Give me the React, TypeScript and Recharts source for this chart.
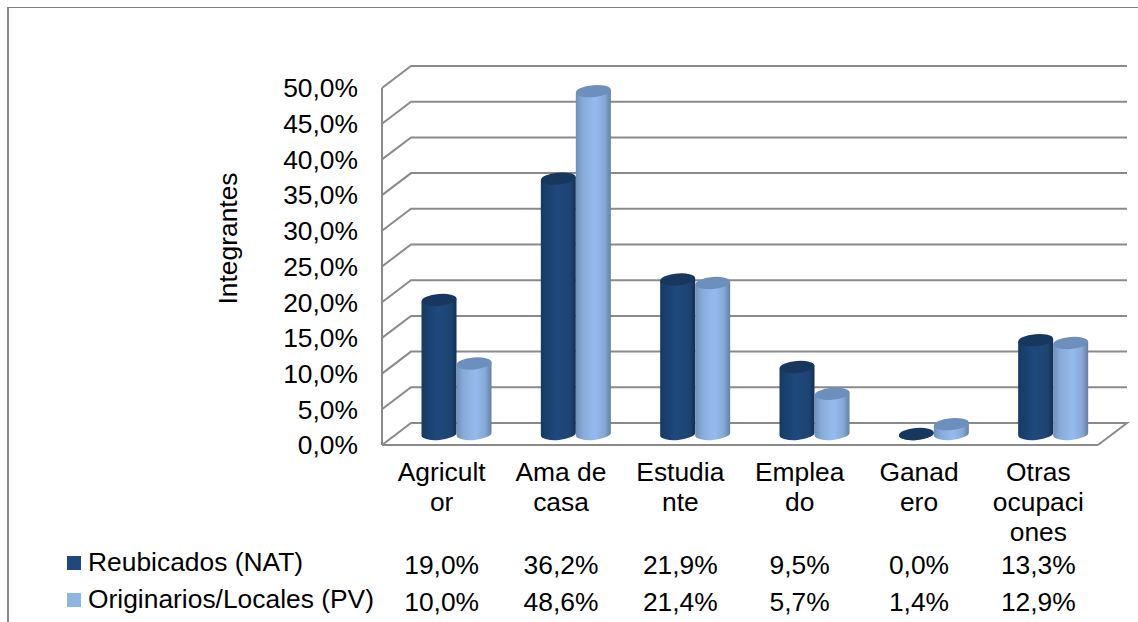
import { BarChart, Bar, XAxis, YAxis, CartesianGrid, Legend } from 'recharts'

const categories = ['Agricult\nor', 'Ama de\ncasa', 'Estudia\nnte', 'Emplea\ndo', 'Ganad\nero', 'Otras\nocupaci\nones']
const reubicados = [19.0, 36.2, 21.9, 9.5, 0.0, 13.3]
const originarios = [10.0, 48.6, 21.4, 5.7, 1.4, 12.9]
const yTicks = [0, 5, 10, 15, 20, 25, 30, 35, 40, 45, 50]

const data = categories.map((name, i) => ({ name, reubicados: reubicados[i], originarios: originarios[i] }))

const FONT = '"Liberation Sans", Arial, sans-serif'
const FONT_SIZE = 26.4
const GRID = '#8a8a8a'
const DARK = '#1f497d'
const LIGHT = '#8eb4e3'
// 3D depth of the floor / back wall
const DEPTH_X = 29
const DEPTH_Y = 22
// bars stand mid-floor, so they read a little shorter than the front axis
const BAR_SCALE = 0.988

const pct = (v: number) => `${v.toFixed(1).replace('.', ',')}%`

function Cylinder({ x, y, width, height, gradient, cap }: any) {
    const rx = width / 2
    const ry = 6
    const left = x + DEPTH_X / 2
    const right = left + width
    const cx = left + rx
    const bottom = y + height - DEPTH_Y / 2
    const top = bottom - height * BAR_SCALE
    const tilt = 1.6
    return (
        <g>
            <path
                d={`M${left},${top + tilt} L${left},${bottom + tilt} A${rx},${ry} -5 0 0 ${right},${bottom - tilt} L${right},${top - tilt} Z`}
                fill={`url(#${gradient})`}
            />
            <ellipse cx={cx} cy={top} rx={rx} ry={ry} fill={cap} transform={`rotate(-5 ${cx} ${top})`} />
        </g>
    )
}

function WallLine({ x1, x2, y1, index }: any) {
    const floor = y1 >= 444
    const pts = `${x1},${y1} ${x1 + DEPTH_X},${y1 - DEPTH_Y} ${x2 + DEPTH_X},${y1 - DEPTH_Y}${floor ? ` ${x2},${y1}` : ''}`
    return <polyline key={index} points={pts} fill="none" stroke={GRID} strokeWidth={2} />
}

function TableTick({ x, y, payload, index }: any) {
    const lines = String(payload.value).split('\n')
    return (
        <g fontFamily={FONT} fontSize={FONT_SIZE} fill="#000" textAnchor="middle">
            {lines.map((line, i) => (
                <text key={i} x={x} y={y + 34 + i * 30}>{line}</text>
            ))}
            <text x={x} y={y + 127}>{pct(reubicados[index])}</text>
            <text x={x} y={y + 164}>{pct(originarios[index])}</text>
        </g>
    )
}

function TableLegend({ payload }: any) {
    return (
        <div style={{ fontFamily: FONT, fontSize: FONT_SIZE, color: '#000' }}>
            {(payload ?? []).map((p: any) => (
                <div key={p.value} style={{ display: 'flex', alignItems: 'center', height: 37, whiteSpace: 'nowrap' }}>
                    <span style={{ width: 14, height: 14, background: p.color, marginRight: 7 }} />
                    {p.value}
                </div>
            ))}
        </div>
    )
}

export default function App() {
    return (
        <div style={{ position: 'absolute', left: 0, top: 0, width: 1138, height: 622, overflow: 'hidden', background: '#fff' }}>
            <div style={{ position: 'absolute', left: 7, top: 7, width: 1131, height: 615, borderLeft: `2px solid ${GRID}`, borderTop: `1px solid #808080` }} />
            <div style={{ position: 'absolute', left: 0, top: 0 }}>
                <BarChart
                    width={1138}
                    height={622}
                    data={data}
                    barSize={35}
                    barGap={0}
                    margin={{ top: 88, right: 40, bottom: 0, left: 0 }}
                >
                    <defs>
                        <linearGradient id="cylDark" x1="0" x2="1" y1="0" y2="0">
                            <stop offset="0" stopColor="#163a63" />
                            <stop offset="0.45" stopColor="#1f497d" />
                            <stop offset="0.85" stopColor="#1d4370" />
                            <stop offset="1" stopColor="#122f52" />
                        </linearGradient>
                        <linearGradient id="cylLight" x1="0" x2="1" y1="0" y2="0">
                            <stop offset="0" stopColor="#6f8fb8" />
                            <stop offset="0.2" stopColor="#87abd9" />
                            <stop offset="0.55" stopColor="#95bbee" />
                            <stop offset="0.82" stopColor="#86a9d6" />
                            <stop offset="1" stopColor="#64809f" />
                        </linearGradient>
                    </defs>
                    <CartesianGrid vertical={false} horizontal={(props: any) => <WallLine {...props} />} />
                    <XAxis
                        dataKey="name"
                        height={177}
                        interval={0}
                        tickLine={false}
                        tickSize={0}
                        axisLine={{ stroke: GRID, strokeWidth: 2 }}
                        tick={(props: any) => <TableTick {...props} />}
                    />
                    <YAxis
                        width={382}
                        domain={[0, 50]}
                        ticks={yTicks}
                        interval={0}
                        tickFormatter={(v: number) => pct(v)}
                        tickLine={false}
                        tickSize={0}
                        tickMargin={24}
                        axisLine={{ stroke: GRID, strokeWidth: 2 }}
                        tick={{ fontFamily: FONT, fontSize: FONT_SIZE, fill: '#000' }}
                        label={{
                            value: 'Integrantes',
                            angle: -90,
                            position: 'center',
                            dx: 37,
                            dy: -28,
                            style: { fontFamily: FONT, fontSize: FONT_SIZE, fill: '#000' },
                        }}
                    />
                    <Bar
                        dataKey="reubicados"
                        name="Reubicados (NAT)"
                        fill={DARK}
                        isAnimationActive={false}
                        shape={(p: any) => <Cylinder {...p} gradient="cylDark" cap="#17375e" />}
                    />
                    <Bar
                        dataKey="originarios"
                        name="Originarios/Locales (PV)"
                        fill={LIGHT}
                        isAnimationActive={false}
                        shape={(p: any) => <Cylinder {...p} gradient="cylLight" cap="#6d8fbd" />}
                    />
                    <Legend
                        layout="vertical"
                        align="center"
                        verticalAlign="middle"
                        itemSorter={null}
                        content={(p: any) => <TableLegend {...p} />}
                        wrapperStyle={{ position: 'absolute', left: 67, top: 544, width: 340, bottom: 'auto' }}
                    />
                </BarChart>
            </div>
        </div>
    )
}
